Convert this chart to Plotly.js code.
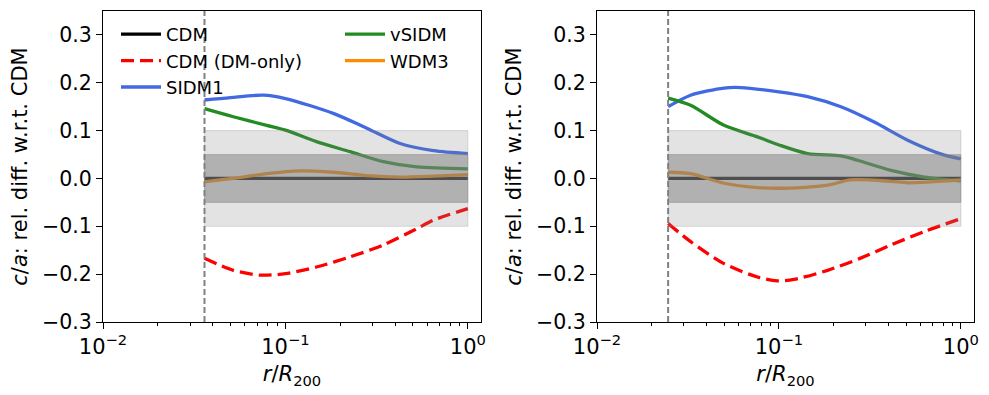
<!DOCTYPE html>
<html>
<head>
<meta charset="utf-8">
<script src="https://cdn.plot.ly/plotly-3.0.1.min.js"></script>
<style>
  body { margin: 0; background: #fff; }
  #chart { width: 989px; height: 395px; }
</style>
</head>
<body>
<div id="chart"></div>
<script>
// Data ------------------------------------------------------------------------
const rMinLeft = 0.036
const rMinRight = 0.0246

// left panel
const rLeftBlue = [0.036, 0.05, 0.0755, 0.1, 0.183, 0.279, 0.425, 0.648, 1.0]
const sidm1Left = [0.164, 0.169, 0.174, 0.167, 0.136, 0.105, 0.073, 0.058, 0.052]
const rLeftGreen = [0.036, 0.0518, 0.0789, 0.1, 0.148, 0.226, 0.344, 0.525, 1.0]
const vsidmLeft = [0.146, 0.129, 0.111, 0.101, 0.077, 0.056, 0.035, 0.024, 0.020]
const rLeftOrange = [0.036, 0.0518, 0.0789, 0.12, 0.183, 0.279, 0.425, 0.648, 1.0]
const wdm3Left = [-0.007, 0.0, 0.010, 0.016, 0.013, 0.006, 0.003, 0.005, 0.008]
const rLeftRed = [0.036, 0.0518, 0.0725, 0.1, 0.148, 0.226, 0.344, 0.525, 0.648, 1.0]
const dmOnlyLeft = [-0.167, -0.192, -0.202, -0.199, -0.185, -0.164, -0.139, -0.105, -0.087, -0.063]

// right panel
const rRightBlue = [0.0246, 0.0327, 0.0499, 0.0617, 0.1, 0.1436, 0.219, 0.334, 0.51, 0.779, 1.0]
const sidm1Right = [0.150, 0.174, 0.189, 0.190, 0.181, 0.171, 0.150, 0.118, 0.080, 0.051, 0.041]
const rRightGreen = [0.0246, 0.0327, 0.0499, 0.0762, 0.1, 0.1436, 0.219, 0.270, 0.413, 0.63, 1.0]
const vsidmRight = [0.168, 0.153, 0.111, 0.087, 0.070, 0.052, 0.047, 0.038, 0.017, 0.003, -0.005]
const rRightOrange = [0.0246, 0.0327, 0.0499, 0.0762, 0.116, 0.185, 0.248, 0.413, 0.51, 1.0]
const wdm3Right = [0.013, 0.010, -0.010, -0.019, -0.020, -0.014, -0.003, -0.006, -0.009, -0.003]
const rRightRed = [0.0246, 0.0327, 0.0499, 0.0762, 0.098, 0.121, 0.185, 0.279, 0.413, 0.63, 1.0]
const dmOnlyRight = [-0.094, -0.132, -0.178, -0.206, -0.214, -0.211, -0.192, -0.167, -0.139, -0.111, -0.084]

const cdmZero = [0, 0]

const yTicks = [-0.3, -0.2, -0.1, 0.0, 0.1, 0.2, 0.3]
const xTicks = [0.01, 0.1, 1]
const xExponents = ['−2', '−1', '0']

// Utils -----------------------------------------------------------------------
const FONT = 'DejaVu Sans, sans-serif'
const xTickText = xExponents.map(e => `10<sup>${e}</sup>`)

const line = (x, y, name, color, opts = {}) => ({
  x, y, name,
  type: 'scatter',
  mode: 'lines',
  line: { color, width: 3.3, shape: 'spline', smoothing: 0.8, dash: opts.dash || 'solid' },
  showlegend: !!opts.legend,
  legend: opts.legend || 'legend',
  xaxis: opts.xaxis || 'x',
  yaxis: opts.yaxis || 'y',
  hoverinfo: 'skip'
})

const panel = (xa, ya, rMin, series) => {
  const [blueX, blueY, greenX, greenY, orX, orY, redX, redY] = series
  const first = xa === 'x'
  return [
    line([rMin, 1.0], cdmZero, 'CDM', 'black', { xaxis: xa, yaxis: ya, legend: first ? 'legend' : null }),
    line(redX, redY, 'CDM (DM-only)', 'red', { xaxis: xa, yaxis: ya, dash: '13px,6px', legend: first ? 'legend' : null }),
    line(blueX, blueY, 'SIDM1', 'royalblue', { xaxis: xa, yaxis: ya, legend: first ? 'legend' : null }),
    line(greenX, greenY, 'vSIDM', 'forestgreen', { xaxis: xa, yaxis: ya, legend: first ? 'legend2' : null }),
    line(orX, orY, 'WDM3', 'darkorange', { xaxis: xa, yaxis: ya, legend: first ? 'legend2' : null })
  ]
}

const traces = [
  ...panel('x', 'y', rMinLeft, [rLeftBlue, sidm1Left, rLeftGreen, vsidmLeft, rLeftOrange, wdm3Left, rLeftRed, dmOnlyLeft]),
  ...panel('x2', 'y2', rMinRight, [rRightBlue, sidm1Right, rRightGreen, vsidmRight, rRightOrange, wdm3Right, rRightRed, dmOnlyRight])
]

// grey bands sit above the curves, like the semi-transparent fills in the original
const bands = (xref, yref, rMin) => [
  { type: 'rect', xref, yref, x0: rMin, x1: 1.0, y0: -0.1, y1: 0.1, layer: 'above',
    fillcolor: 'rgba(128,128,128,0.22)', line: { color: 'rgba(128,128,128,0.25)', width: 1 } },
  { type: 'rect', xref, yref, x0: rMin, x1: 1.0, y0: -0.05, y1: 0.05, layer: 'above',
    fillcolor: 'rgba(128,128,128,0.5)', line: { color: 'rgba(128,128,128,0.4)', width: 1 } },
  { type: 'line', xref, yref: yref + ' domain', x0: rMin, x1: rMin, y0: 0, y1: 1, layer: 'above',
    line: { color: 'gray', width: 2, dash: '6px,3px' } }
]

const xAxis = domain => ({
  type: 'log',
  domain,
  range: [-2, 0.072],
  tickmode: 'array',
  tickvals: xTicks,
  ticktext: xTickText,
  ticks: 'outside',
  ticklen: 6,
  tickwidth: 1,
  tickcolor: 'black',
  minor: { ticks: 'outside', ticklen: 3, tickcolor: 'black', dtick: 'D1', showgrid: false },
  showline: true,
  mirror: true,
  linecolor: 'black',
  linewidth: 1,
  showgrid: false,
  zeroline: false,
  tickfont: { family: FONT, size: 21, color: 'black' },
  title: { text: '<i>r</i>/<i>R</i><sub>200</sub>', font: { family: FONT, size: 21, color: 'black' }, standoff: 8 }
})

const yAxis = (domain, anchor) => ({
  domain,
  anchor,
  range: [-0.3, 0.35],
  tickmode: 'array',
  tickvals: yTicks,
  tickformat: '.1f',
  ticks: 'outside',
  ticklen: 6,
  tickwidth: 1,
  tickcolor: 'black',
  showline: true,
  mirror: true,
  linecolor: 'black',
  linewidth: 1,
  showgrid: false,
  zeroline: false,
  tickfont: { family: FONT, size: 20.5, color: 'black' },
  title: { text: '<i>c</i>/<i>a</i>: rel. diff. w.r.t. CDM', font: { family: FONT, size: 21, color: 'black' }, standoff: 8 }
})

const yDomain = [1 - 322 / 395, 1 - 11 / 395]
const legendFont = { family: FONT, size: 18, color: 'black' }

const layout = {
  width: 989,
  height: 395,
  margin: { l: 0, r: 0, t: 0, b: 0 },
  paper_bgcolor: 'white',
  plot_bgcolor: 'white',
  xaxis: { ...xAxis([103 / 989, 481 / 989]), anchor: 'y' },
  yaxis: yAxis(yDomain, 'x'),
  xaxis2: { ...xAxis([597 / 989, 974 / 989]), anchor: 'y2' },
  yaxis2: yAxis(yDomain, 'x2'),
  shapes: [...bands('x', 'y', rMinLeft), ...bands('x2', 'y2', rMinRight)],
  legend: {
    x: 116 / 989, y: 1 - 16 / 395, xanchor: 'left', yanchor: 'top',
    bgcolor: 'rgba(255,255,255,0)', font: legendFont, itemwidth: 40, tracegroupgap: 0
  },
  legend2: {
    x: 340 / 989, y: 1 - 16 / 395, xanchor: 'left', yanchor: 'top',
    bgcolor: 'rgba(255,255,255,0)', font: legendFont, itemwidth: 40, tracegroupgap: 0
  },
  showlegend: true
}

Plotly.newPlot('chart', traces, layout, { displayModeBar: false, staticPlot: true })
</script>
</body>
</html>
